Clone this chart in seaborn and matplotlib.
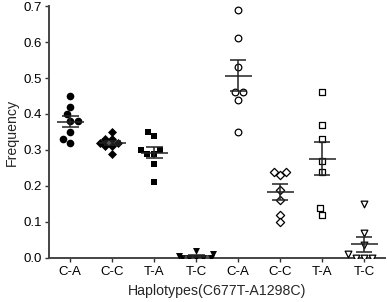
import matplotlib
matplotlib.use("Agg")
import matplotlib.pyplot as plt
import numpy as np
import pandas as pd
import seaborn as sns

# haplotype groups (first four: filled markers, last four: open markers)
labels = ["C-A", "C-C", "T-A", "T-C", "C-A", "C-C", "T-A", "T-C"]
ca_1 = [0.45, 0.42, 0.40, 0.38, 0.38, 0.35, 0.32, 0.33]
cc_1 = [0.35, 0.33, 0.33, 0.32, 0.32, 0.31, 0.31, 0.29]
ta_1 = [0.35, 0.34, 0.30, 0.30, 0.29, 0.29, 0.26, 0.21]
tc_1 = [0.0, 0.0, 0.0, 0.0, 0.0, 0.006, 0.012, 0.02]
ca_2 = [0.69, 0.61, 0.53, 0.46, 0.46, 0.44, 0.35]
cc_2 = [0.24, 0.23, 0.24, 0.19, 0.16, 0.12, 0.10]
ta_2 = [0.46, 0.37, 0.33, 0.27, 0.24, 0.14, 0.12]
tc_2 = [0.15, 0.07, 0.035, 0.01, 0.0, 0.0, 0.0]

groups = [ca_1, cc_1, ta_1, tc_1, ca_2, cc_2, ta_2, tc_2]
markers = ["o", "D", "s", "v", "o", "D", "s", "v"]
filled = [True, True, True, True, False, False, False, False]
sizes = [5.5, 4.6, 4.8, 5.0, 4.8, 4.2, 4.4, 4.8]

rows = []
for i, vals in enumerate(groups):
    for v in vals:
        rows.append({"group": str(i), "freq": v})
df = pd.DataFrame(rows)
order = [str(i) for i in range(len(groups))]

sns.set_style("ticks")
plt.rcParams["font.family"] = ["Liberation Sans", "DejaVu Sans"]

fig = plt.figure(figsize=(3.87, 3.02), dpi=100)
ax = fig.add_axes([0.127, 0.146, 0.868, 0.834])

for i in range(len(groups)):
    sub = df[df["group"] == order[i]]
    if filled[i]:
        sns.swarmplot(data=sub, x="group", y="freq", order=order, ax=ax,
                      marker=markers[i], color="black", size=sizes[i],
                      linewidth=0, warn_thresh=1)
    else:
        sns.swarmplot(data=sub, x="group", y="freq", order=order, ax=ax,
                      marker=markers[i], color="white", edgecolor="black",
                      size=sizes[i], linewidth=0.9, warn_thresh=1)

# mean and SEM bars
line_c = "#222222"
for i, vals in enumerate(groups):
    v = np.array(vals)
    m = v.mean()
    sem = v.std(ddof=1) / np.sqrt(len(v))
    ax.hlines(m, i - 0.32, i + 0.32, color=line_c, lw=1.1, zorder=5)
    ax.hlines([m - sem, m + sem], i - 0.2, i + 0.2, color=line_c, lw=1.1, zorder=5)
    ax.vlines(i, m - sem, m + sem, color=line_c, lw=1.1, zorder=5)

ax.set_xlim(-0.5, 7.5)
ax.set_ylim(0, 0.7)
ax.set_yticks(np.arange(0, 0.71, 0.1))
ax.set_yticklabels([f"{t:.1f}" for t in np.arange(0, 0.71, 0.1)])
ax.set_xticks(range(len(labels)))
ax.set_xticklabels(labels)
ax.tick_params(axis="both", labelsize=9.5, colors="#333333", length=3, width=1,
               labelcolor="black", pad=2.5)
ax.set_xlabel("Haplotypes(C677T-A1298C)", fontsize=10.2, labelpad=5)
ax.set_ylabel("Frequency", fontsize=10.2, labelpad=3)

sns.despine(ax=ax)
for s in ["left", "bottom"]:
    ax.spines[s].set_color("#444444")
    ax.spines[s].set_linewidth(1.4)

fig.savefig("out.png", dpi=100)
